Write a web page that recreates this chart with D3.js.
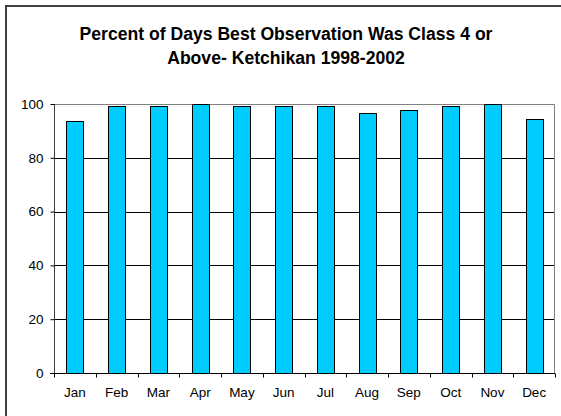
<!DOCTYPE html>
<html>
<head>
<meta charset="utf-8">
<script src="https://cdn.jsdelivr.net/npm/d3@7"></script>
<style>
  html, body { margin: 0; background: #fff; overflow: hidden; }
  svg { display: block; }
  text { font-family: "Liberation Sans", Arial, sans-serif; fill: #000; }
  .title { font-size: 17.6px; font-weight: bold; }
  .tick text { font-size: 13.5px; }
</style>
</head>
<body>
<div class="viz"></div>
<script>
const months = ["Jan", "Feb", "Mar", "Apr", "May", "Jun", "Jul", "Aug", "Sep", "Oct", "Nov", "Dec"];
const percents = [93.6, 99.3, 99.3, 100, 99.3, 99.3, 99.3, 96.8, 97.9, 99.3, 100, 94.3];
const yTicks = [0, 20, 40, 60, 80, 100];
const titleLines = ["Percent of Days Best Observation Was Class 4 or", "Above- Ketchikan 1998-2002"];

const W = 561, H = 416;
const margin = { top: 104, bottom: 43, left: 54, right: 6 };
const width = W - margin.left - margin.right;
const height = H - margin.top - margin.bottom;

const svg = d3.select('.viz')
    .append('svg')
    .attr('width', W)
    .attr('height', H);

// outer chart border (runs off the picture on right/bottom)
svg.append("rect")
    .attr("x", 6).attr("y", 6)
    .attr("width", W + 10).attr("height", H + 10)
    .attr("fill", "none")
    .attr("stroke", "#404040")
    .attr("stroke-width", 2);

svg.selectAll(".title")
    .data(titleLines)
    .enter()
    .append("text")
    .attr("class", "title")
    .attr("x", 286)
    .attr("y", (d, i) => 40 + i * 23.5)
    .attr("text-anchor", "middle")
    .text(d => d);

const g = svg.append('g')
    .attr('transform', `translate(${margin.left},${margin.top})`);

const x = d3.scaleBand()
    .domain(months)
    .range([0, width])
    .paddingInner(0.59)
    .paddingOuter(0.295);

const band = d3.scaleBand().domain(months).range([0, width]);

const y = d3.scaleLinear()
    .domain([0, 100])
    .range([height, 0]);

// gridlines
g.selectAll(".grid")
    .data(yTicks.filter(d => d > 0 && d < 100))
    .enter()
    .append("line")
    .attr("x1", 0).attr("x2", width)
    .attr("y1", d => Math.round(y(d)) + 0.5)
    .attr("y2", d => Math.round(y(d)) + 0.5)
    .attr("stroke", "#000");

// plot area border top/right
g.append("path")
    .attr("d", `M0,0.5H${width - 0.5}V${height}`)
    .attr("fill", "none")
    .attr("stroke", "#808080");

// bars
g.selectAll(".bar")
    .data(percents)
    .enter()
    .append("rect")
    .attr("class", "bar")
    .attr("x", (d, i) => Math.round(x(months[i])) + 0.5)
    .attr("y", d => Math.round(y(d)) + 0.5)
    .attr("width", Math.round(x.bandwidth()))
    .attr("height", d => Math.round(height - y(d)))
    .attr("fill", "#00CCFF")
    .attr("stroke", "#000")
    .attr("stroke-width", 1);

// y axis
const yAxis = g.append("g")
    .attr("transform", "translate(0.5,0)")
    .call(d3.axisLeft(y).tickValues(yTicks).tickSize(4).tickPadding(7));
yAxis.select(".domain").attr("stroke", "#404040").attr("d", `M0,0V${height}`);

// x axis
const xAxis = g.append("g")
    .attr("transform", `translate(0,${height + 0.5})`)
    .call(d3.axisBottom(band).tickSize(0).tickPadding(14));
xAxis.select(".domain").attr("stroke", "#000").attr("d", `M-4,0H${width}`);

// category separator ticks
xAxis.selectAll(".sep")
    .data(d3.range(months.length + 1))
    .enter()
    .append("line")
    .attr("x1", i => Math.round(i * band.step()) + 0.5)
    .attr("x2", i => Math.round(i * band.step()) + 0.5)
    .attr("y1", 0).attr("y2", 4)
    .attr("stroke", "#000");
</script>
</body>
</html>
